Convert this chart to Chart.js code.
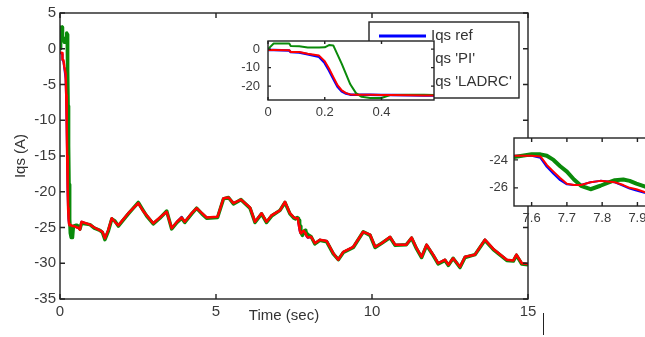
<!DOCTYPE html>
<html>
<head>
<meta charset="utf-8">
<script src="https://cdn.jsdelivr.net/npm/chart.js@4"></script>
<style>
  html, body { margin: 0; padding: 0; background: #fff; }
  body { width: 645px; height: 337px; overflow: hidden; position: relative; }
  canvas { position: absolute; }
  #main { left: 0; top: 0; }
  #zoomStart { left: 228px; top: 25px; }
  #zoomMid { left: 474px; top: 124px; }
  #mark { position: absolute; left: 543px; top: 313px; width: 1px; height: 22px; background: #222; }
</style>
</head>
<body>
<canvas id="main" width="645" height="337"></canvas>
<canvas id="zoomStart" width="212" height="97"></canvas>
<canvas id="zoomMid" width="200" height="106"></canvas>
<div id="mark"></div>
<script>
// time (sec)
const time = [0, 0.02, 0.075, 0.08, 0.11, 0.14, 0.18, 0.2, 0.215, 0.23, 0.245, 0.26, 0.275, 0.29, 0.31, 0.33, 0.36, 0.4, 0.43, 0.5, 0.55, 0.6,
  0.64, 0.69, 0.96, 1.1, 1.28, 1.36, 1.44, 1.55, 1.66, 1.76, 1.87, 2.0, 2.19, 2.35, 2.51, 2.65, 2.78, 2.99, 3.2, 3.42, 3.58, 3.75, 3.9, 4.0,
  4.22, 4.38, 4.55, 4.7, 5.05, 5.24, 5.4, 5.56, 5.8, 6.09, 6.25, 6.46, 6.62, 6.78, 7.05, 7.21, 7.37, 7.5,
  7.55, 7.6, 7.625, 7.643, 7.662, 7.681, 7.7, 7.72, 7.74, 7.767, 7.795, 7.815, 7.836, 7.86, 7.878, 7.897, 7.92, 7.95,
  8.05, 8.17, 8.33, 8.55, 8.76, 8.92, 9.08, 9.4, 9.72, 9.94, 10.1, 10.31, 10.58, 10.74, 11.1, 11.27, 11.43, 11.59, 11.75, 11.96,
  12.12, 12.34, 12.45, 12.6, 12.82, 12.98, 13.3, 13.62, 13.89, 14.32, 14.53, 14.63, 14.8, 15];

const iqsRef = [-0.5, -0.5, -0.8, -1.6, -1.8, -2.8, -4.2, -7.5, -11.5, -16, -20.3, -22.8, -24.0, -24.6, -24.7, -24.7, -24.7, -24.8, -24.8, -24.9, -25.0, -25.1,
  -25.3, -24.2, -24.6, -25.0, -25.4, -25.6, -26.5, -25.3, -23.7, -24.2, -24.7, -24.0, -23.0, -22.3, -21.6, -22.6, -23.3, -24.4, -23.6, -22.8, -25.1, -24.2, -23.5, -24.2,
  -23.0, -22.3, -23.0, -23.6, -23.5, -20.9, -20.8, -21.6, -21.1, -22.2, -24.2, -23.0, -24.2, -23.3, -22.6, -21.4, -23.0, -23.6,
  -23.7, -23.7, -23.85, -24.5, -25.0, -25.45, -25.75, -25.8, -25.8, -25.6, -25.5, -25.55, -25.6, -25.85, -26.05, -26.2, -26.35, -26.45,
  -26.3, -27.2, -26.7, -26.9, -28.6, -29.5, -28.4, -27.7, -25.6, -26.0, -27.7, -27.2, -26.3, -27.4, -27.4, -26.4, -27.9, -29.1, -27.4, -28.8,
  -30.0, -29.5, -30.2, -29.3, -30.5, -29.1, -28.8, -26.7, -28.0, -29.5, -29.6, -28.8, -30.0, -30.1];

const iqsPI = [0, 3.0, 3.0, 1.7, 1.5, 0.9, 0.9, 1.0, 2.2, 2.0, -3, -8, -13.5, -19, -23.8, -25.8, -26.4, -26.4, -24.8, -24.7, -24.7, -24.9,
  -25.2, -24.4, -24.6, -25.1, -25.4, -25.7, -26.7, -25.5, -23.8, -24.1, -24.8, -24.1, -23.1, -22.3, -21.5, -22.5, -23.4, -24.5, -23.7, -22.7, -25.2, -24.3, -23.7, -24.3,
  -23.1, -22.3, -23.1, -23.7, -23.6, -21.0, -20.8, -21.7, -21.1, -22.3, -24.3, -23.1, -24.3, -23.4, -22.6, -21.5, -23.1, -23.7,
  -23.8, -23.6, -23.6, -23.7, -24.0, -24.45, -24.84, -25.4, -25.85, -26.1, -25.85, -25.65, -25.45, -25.4, -25.5, -25.7, -25.9, -26.0,
  -26.3, -27.3, -26.8, -27.0, -28.7, -29.5, -28.5, -27.8, -25.6, -26.1, -27.8, -27.2, -26.4, -27.5, -27.4, -26.5, -28.0, -29.2, -27.5, -28.9,
  -30.1, -29.6, -30.3, -29.3, -30.6, -29.2, -28.8, -26.8, -28.1, -29.6, -29.7, -28.9, -30.1, -30.2];

const iqsLADRC = [-0.5, -0.5, -0.6, -1.5, -1.6, -2.5, -3.5, -6.5, -10.5, -15, -19.5, -22.3, -23.8, -24.5, -24.7, -24.7, -24.7, -24.8, -24.8, -24.9, -25.0, -25.1,
  -25.3, -24.2, -24.6, -25.0, -25.4, -25.6, -26.5, -25.3, -23.7, -24.2, -24.7, -24.0, -23.0, -22.3, -21.6, -22.6, -23.3, -24.4, -23.6, -22.8, -25.1, -24.2, -23.6, -24.2,
  -23.0, -22.3, -23.0, -23.6, -23.5, -20.9, -20.8, -21.6, -21.1, -22.2, -24.2, -23.0, -24.2, -23.3, -22.6, -21.4, -23.0, -23.6,
  -23.7, -23.7, -23.75, -24.36, -24.84, -25.3, -25.7, -25.8, -25.8, -25.6, -25.5, -25.55, -25.6, -25.8, -26.0, -26.1, -26.3, -26.4,
  -26.3, -27.2, -26.7, -26.9, -28.6, -29.5, -28.4, -27.7, -25.6, -26.0, -27.7, -27.2, -26.3, -27.4, -27.4, -26.4, -27.9, -29.1, -27.4, -28.8,
  -30.0, -29.5, -30.2, -29.3, -30.5, -29.1, -28.8, -26.7, -28.0, -29.5, -29.6, -28.8, -30.0, -30.1];

const seriesLabels = ['Iqs ref', "Iqs 'PI'", "Iqs 'LADRC'"];
const seriesColors = ['#0000ff', '#0a8a0a', '#ff0000'];

// tick labels
const mainXTicks = [0, 5, 10, 15];
const mainYTicks = [-35, -30, -25, -20, -15, -10, -5, 0, 5];
const startXTicks = [0, 0.2, 0.4];
const startYTicks = [-20, -10, 0];
const midXTicks = [7.6, 7.7, 7.8, 7.9];
const midYTicks = [-26, -24];

Chart.defaults.font.family = '"Liberation Sans", Arial, sans-serif';
Chart.defaults.color = '#3a3a3a';

const pts = vals => time.map((t, i) => ({x: t, y: vals[i]}));

function makeDatasets(widths) {
  const vals = [iqsRef, iqsPI, iqsLADRC];
  return vals.map((v, i) => ({
    label: seriesLabels[i],
    data: pts(v),
    borderColor: seriesColors[i],
    borderWidth: widths[i],
    pointRadius: 0,
    fill: false,
    tension: 0,
    borderJoinStyle: 'round',
    clip: 0,
    order: 2 - i   // LADRC on top, ref underneath
  }));
}

// matlab style box with inward ticks
const frame = {
  id: 'frame',
  beforeDraw(chart) {
    const {ctx, chartArea: a} = chart;
    ctx.save();
    ctx.fillStyle = '#fff';
    ctx.fillRect(a.left, a.top, a.right - a.left, a.bottom - a.top);
    ctx.restore();
  },
  afterDatasetsDraw(chart, args, o) {
    const {ctx, chartArea: a, scales: {x, y}} = chart;
    const len = o.tick;
    ctx.save();
    ctx.strokeStyle = '#222';
    ctx.lineWidth = 1.4;
    ctx.strokeRect(a.left, a.top, a.right - a.left, a.bottom - a.top);
    ctx.beginPath();
    x.ticks.forEach(t => {
      const px = x.getPixelForValue(t.value);
      ctx.moveTo(px, a.bottom); ctx.lineTo(px, a.bottom - len);
      ctx.moveTo(px, a.top); ctx.lineTo(px, a.top + len);
    });
    y.ticks.forEach(t => {
      const py = y.getPixelForValue(t.value);
      ctx.moveTo(a.left, py); ctx.lineTo(a.left + len, py);
      ctx.moveTo(a.right, py); ctx.lineTo(a.right - len, py);
    });
    ctx.stroke();
    ctx.restore();
  }
};

const boxLegend = {
  id: 'boxLegend',
  afterDraw(chart, args, o) {
    const {ctx} = chart;
    const [x0, y0, x1, y1] = o.box;
    ctx.save();
    ctx.fillStyle = '#fff';
    ctx.fillRect(x0, y0, x1 - x0, y1 - y0);
    ctx.strokeStyle = '#222';
    ctx.lineWidth = 1.4;
    ctx.strokeRect(x0, y0, x1 - x0, y1 - y0);
    ctx.font = '15px "Liberation Sans", Arial, sans-serif';
    ctx.textBaseline = 'middle';
    chart.data.datasets.forEach((d, i) => {
      const yy = o.rows[i];
      ctx.strokeStyle = d.borderColor;
      ctx.lineWidth = 3;
      ctx.beginPath();
      ctx.moveTo(o.line[0], yy); ctx.lineTo(o.line[1], yy);
      ctx.stroke();
      ctx.fillStyle = '#333';
      ctx.fillText(d.label, o.textX, yy);
    });
    // x axis title
    ctx.textAlign = 'center';
    ctx.fillStyle = '#333';
    ctx.fillText('Time (sec)', o.xTitle[0], o.xTitle[1]);
    ctx.restore();
  }
};

const fmt = v => String(Math.round(v * 100) / 100);

function axisOptions(c) {
  return {
    x: {
      type: 'linear', min: c.xMin, max: c.xMax,
      grid: {display: false, drawTicks: false},
      border: {display: false},
      afterBuildTicks: s => { s.ticks = c.xTicks.map(v => ({value: v})); },
      afterFit: s => { s.height = c.xHeight; },
      ticks: {font: {size: c.font}, padding: c.xPad, maxRotation: 0, autoSkip: false, callback: fmt}
    },
    y: {
      type: 'linear', min: c.yMin, max: c.yMax,
      grid: {display: false, drawTicks: false},
      border: {display: false},
      afterBuildTicks: s => { s.ticks = c.yTicks.map(v => ({value: v})); },
      afterFit: s => { s.width = c.yWidth; },
      ticks: {font: {size: c.font}, padding: c.yPad, autoSkip: false, callback: fmt},
      title: c.yTitle ? {display: true, text: c.yTitle, font: {size: 15}, color: '#333', padding: {top: 12, bottom: 0}} : {display: false}
    }
  };
}

const base = {
  responsive: false,
  animation: false,
  events: [],
  plugins: {legend: {display: false}, tooltip: {enabled: false}}
};

new Chart(document.getElementById('main'), {
  type: 'line',
  data: {datasets: makeDatasets([2, 3.5, 2.5])},
  options: {
    ...base,
    layout: {padding: {left: 0, top: 13, right: 117, bottom: 0}},
    scales: axisOptions({xMin: 0, xMax: 15, yMin: -35, yMax: 5, xTicks: mainXTicks, yTicks: mainYTicks,
      xHeight: 38, yWidth: 60, font: 15, xPad: 4, yPad: 4, yTitle: 'Iqs (A)'}),
    plugins: {...base.plugins, frame: {tick: 5},
      boxLegend: {box: [369, 22, 519, 98], rows: [36, 59, 82], line: [379, 426], textX: 431, xTitle: [284, 316]}}
  },
  plugins: [frame, boxLegend]
});

new Chart(document.getElementById('zoomStart'), {
  type: 'line',
  data: {datasets: makeDatasets([2.5, 2, 2])},
  options: {
    ...base,
    layout: {padding: {left: 0, top: 16, right: 6, bottom: 0}},
    scales: axisOptions({xMin: 0, xMax: 0.585, yMin: -27.5, yMax: 4.4, xTicks: startXTicks, yTicks: startYTicks,
      xHeight: 22, yWidth: 40, font: 13, xPad: 5, yPad: 8}),
    plugins: {...base.plugins, frame: {tick: 3}}
  },
  plugins: [frame]
});

new Chart(document.getElementById('zoomMid'), {
  type: 'line',
  data: {datasets: makeDatasets([2, 4, 2])},
  options: {
    ...base,
    layout: {padding: {left: 0, top: 14, right: 14, bottom: 0}},
    scales: axisOptions({xMin: 7.55, xMax: 7.964, yMin: -27.3, yMax: -22.43, xTicks: midXTicks, yTicks: midYTicks,
      xHeight: 24, yWidth: 40, font: 13, xPad: 5, yPad: 6}),
    plugins: {...base.plugins, frame: {tick: 4}}
  },
  plugins: [frame]
});
</script>
</body>
</html>
